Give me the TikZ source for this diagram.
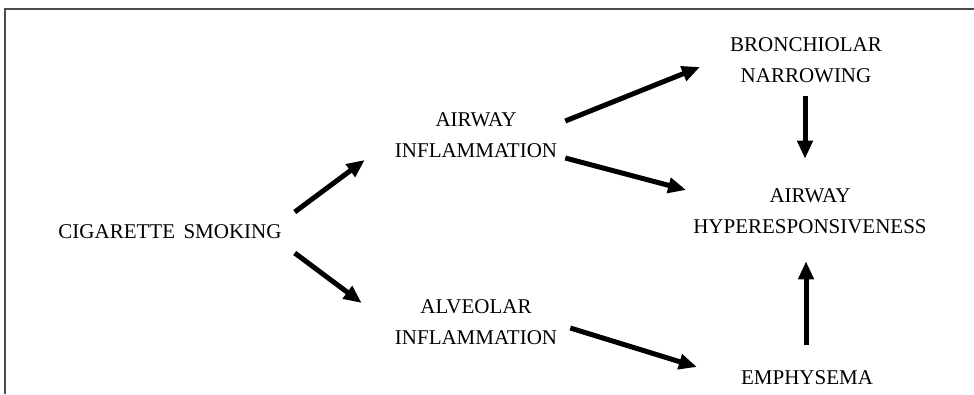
\documentclass[tikz,border=0pt]{standalone}
\usepackage{fontspec}
\setmainfont{Liberation Serif}
\usetikzlibrary{arrows.meta,calc}
\tikzset{
  lbl/.style={inner sep=0pt, align=center, font=\fontsize{21}{31}\selectfont},
  arr/.style={line width=5pt, -{Triangle[length=18pt,width=15pt]}},
  frame/.style={line width=1.6pt, draw=black!70}
}
\begin{document}
\begin{tikzpicture}[x=1pt,y=1pt]
\useasboundingbox (0,0) rectangle (974,394);
\draw[frame] (4,385) -- (974,385);
\draw[frame] (5,385) -- (5,0);
\node[lbl] (smoke) at (170,162.5) {CIGARETTE\hspace{0.4em}SMOKING};
\node[lbl] (airinf) at (476,259) {AIRWAY\\INFLAMMATION};
\node[lbl] (alvinf) at (476,71.5) {ALVEOLAR\\INFLAMMATION};
\node[lbl] (bronch) at (806,333.5) {BRONCHIOLAR\\NARROWING};
\node[lbl] (hyper) at (810,182.5) {AIRWAY\\HYPERESPONSIVENESS};
\node[lbl] (emph) at (807,16.5) {EMPHYSEMA};
\draw[arr] ($(smoke.east)+(13,19.5)$) -- ($(airinf.west)+(-30,-25)$);
\draw[arr] ($(smoke.east)+(13,-21.5)$) -- ($(alvinf.west)+(-33,19.5)$);
\draw[arr] ($(airinf.east)+(8,14)$) -- ($(bronch.west)+(-30,-6.5)$);
\draw[arr] ($(airinf.east)+(8,-23)$) -- ($(hyper.west)+(-7,21.5)$);
\draw[arr] ($(alvinf.east)+(13,-5.5)$) -- ($(emph.west)+(-44,10.5)$);
\draw[arr] ($(bronch.south)+(-1,-13)$) -- ($(hyper.north)+(-5,30)$);
\draw[arr] ($(emph.north)+(-1,25)$) -- ($(hyper.south)+(-4,-27)$);
\end{tikzpicture}
\end{document}
